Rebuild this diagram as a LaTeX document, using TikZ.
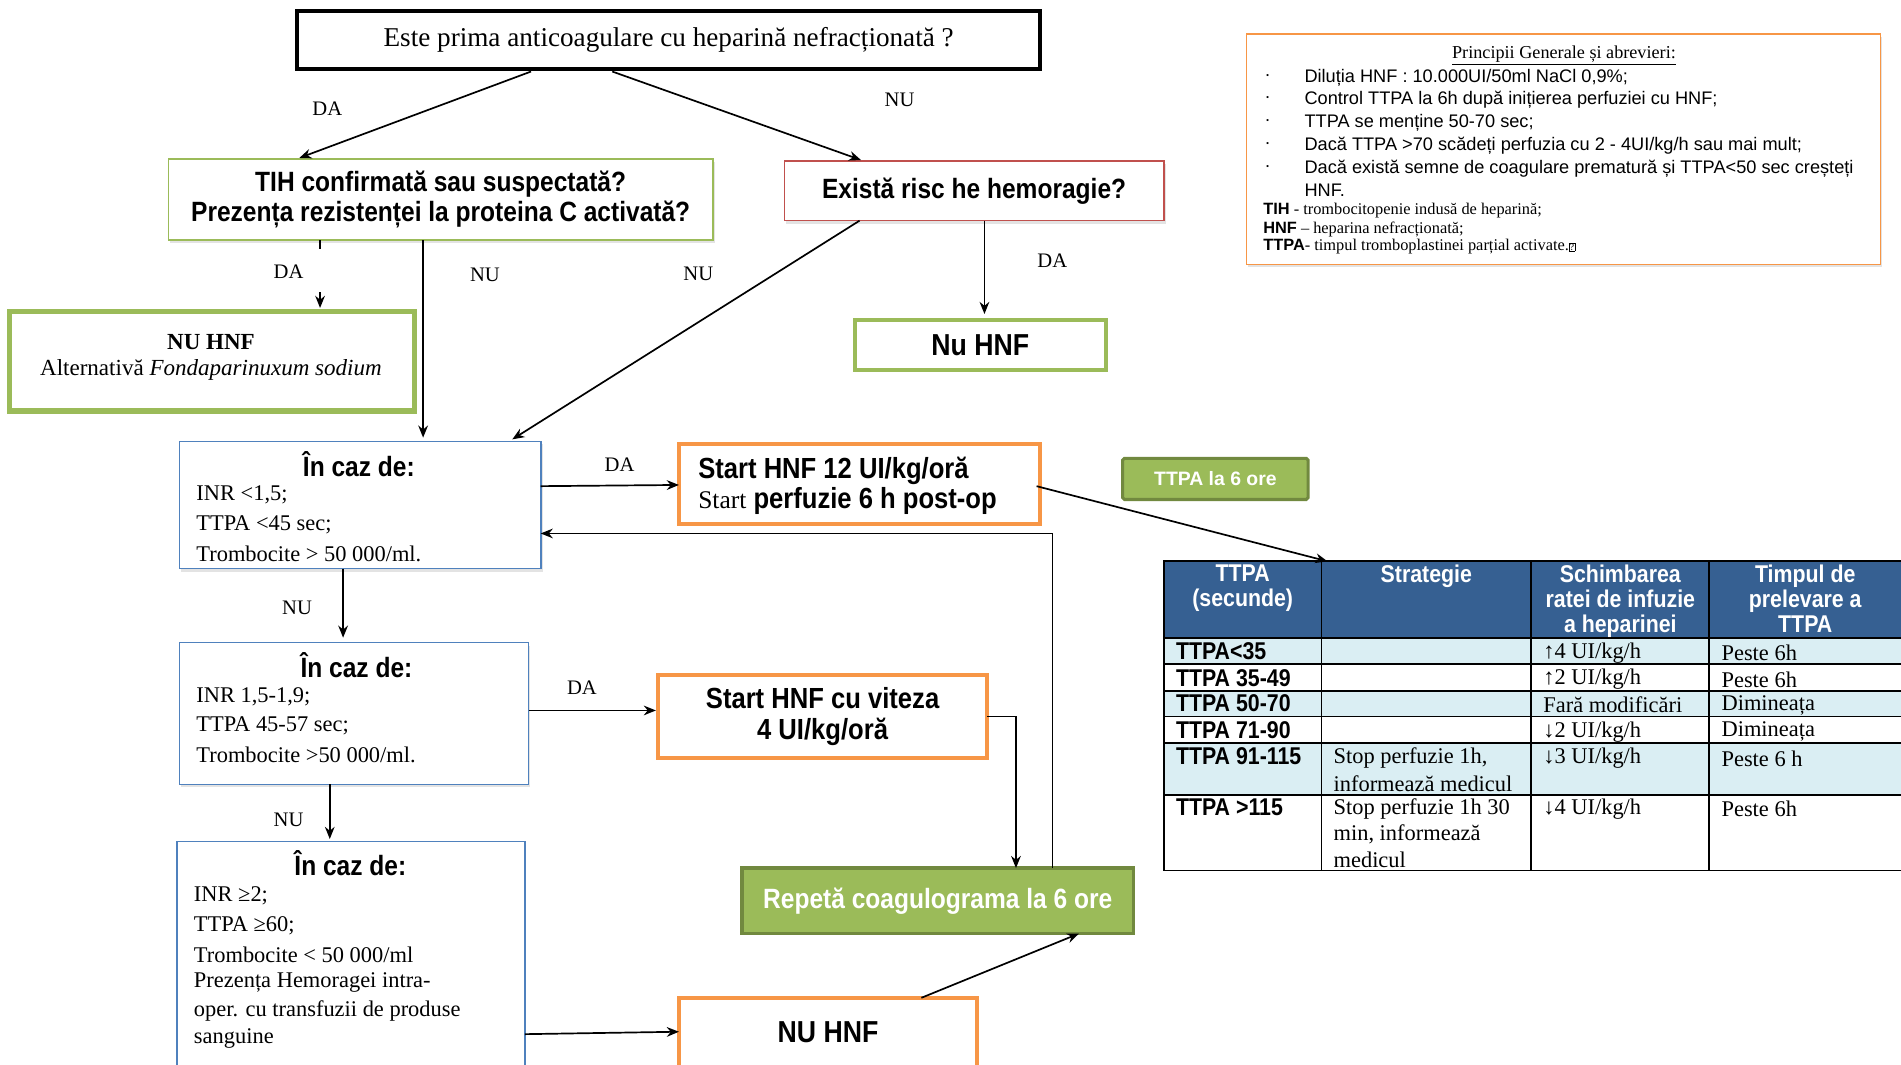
\documentclass[tikz,border=0pt]{standalone}
\usepackage{fontspec}
\setmainfont{Liberation Serif}
\newfontfamily\nb[FakeStretch=0.88]{Liberation Sans}
\newfontfamily\ar{Liberation Sans}
\usetikzlibrary{shadows,arrows.meta}
\definecolor{gr}{HTML}{9BBB59}
\definecolor{dgr}{HTML}{71893F}
\definecolor{rd}{HTML}{C0504D}
\definecolor{bl}{HTML}{4F81BD}
\definecolor{og}{HTML}{F79646}
\definecolor{hdr}{HTML}{366092}
\definecolor{lbl}{HTML}{DAEEF3}
\newcommand{\fsz}[2]{\fontsize{#1}{#2}\selectfont}
\begin{document}
\begin{tikzpicture}[x=1pt,y=-1pt,
  every node/.style={inner sep=0pt, outer sep=0pt},
  box/.style={rectangle, fill=white},
  shd/.style={drop shadow={opacity=0.22, shadow xshift=1.5pt, shadow yshift=-2.5pt}},
  arr/.style={-{Stealth[length=10pt,width=8pt]}, line width=1.4pt},
  ln/.style={line width=1.4pt},
  lab/.style={font=\fsz{17}{20}},
  nbf/.style={font=\nb\bfseries\fsz{23}{25}},
  tx/.style={anchor=west, yshift=-1.5pt, font=\fsz{18.5}{24}},
  psans/.style={anchor=west, yshift=-2pt, font=\ar\fsz{15}{19}},
  pser/.style={anchor=west, yshift=-2pt, font=\fsz{13.5}{15}},
  thd/.style={anchor=north, align=center, text=white, font=\nb\bfseries\fsz{20}{20.5}},
  tc1/.style={anchor=west, font=\nb\bfseries\fsz{20}{22}},
  tcs/.style={anchor=west, yshift=-1.5pt, font=\fsz{18.5}{21}},
  tline/.style={line width=1.6pt},
]
\clip (0,0) rectangle (1568,878);
\fill[white] (0,0) rectangle (1568,878);

% ---------- boxes ----------
\node[box, draw=black, line width=3pt, minimum width=613pt, minimum height=48pt, font=\fsz{22.4}{26}] (top) at (551.5,33) {Este prima anticoagulare cu heparină nefracționată ?};

\node[box, draw=gr, line width=1.5pt, shd, minimum width=449pt, minimum height=67pt, align=center, font=\nb\bfseries\fsz{23}{25}] (tih) at (363.5,164.5) {TIH confirmată sau suspectată?\\Prezența rezistenței la proteina C activată?};

\node[box, draw=rd, line width=1.3pt, shd, minimum width=313pt, minimum height=49pt, nbf] (risk) at (803.5,157.5) {Există risc he hemoragie?};

\node[box, draw=gr, line width=4.5pt, minimum width=334pt, minimum height=82pt] (nohnf1) at (175,298) {};
\node[font=\bfseries\fsz{19}{22}] (nohnf1a) at (174,282) {NU HNF};
\node[font=\fsz{19}{22}] (nohnf1b) at (174,305) {Alternativă \textit{Fondaparinuxum sodium}};

\node[box, draw=gr, line width=3.5pt, minimum width=207pt, minimum height=41pt, font=\nb\bfseries\fsz{25}{27}] (nohnf2) at (808.5,284.5) {Nu HNF};

\node[box, draw=bl, line width=1.3pt, shd, minimum width=298pt, minimum height=105pt] (boxA) at (297,416.5) {};
\node[nbf] (boxAh) at (296,383) {În caz de:};
\node[tx] (boxA1) at (162,407) {INR <1,5;};
\node[tx] (boxA2) at (162,431) {TTPA <45 sec;};
\node[tx] (boxA3) at (162,455) {Trombocite > 50 000/ml.};

\node[box, draw=og, line width=3.5pt, minimum width=298pt, minimum height=66pt] (start1) at (709,399) {};
\node[anchor=west, font=\nb\bfseries\fsz{24}{26}] (start1a) at (576,388) {Start HNF 12 UI/kg/oră};
\node[anchor=west, font=\nb\bfseries\fsz{24}{26}] (start1b) at (576,413) {{\rmfamily\mdseries\fsz{21}{24}Start} perfuzie 6 h post-op};

\node[box, fill=gr, draw=dgr, line width=2.5pt, rounded corners=1.5pt, minimum width=153pt, minimum height=34pt, text=white, font=\ar\bfseries\fsz{16}{18}] (ttpa6) at (1002.5,395) {TTPA la 6 ore};

\node[box, draw=bl, line width=1.3pt, shd, minimum width=288pt, minimum height=117pt] (boxB) at (292,588.5) {};
\node[nbf] (boxBh) at (294,549) {În caz de:};
\node[tx] (boxB1) at (162,573) {INR 1,5-1,9;};
\node[tx] (boxB2) at (162,597) {TTPA 45-57 sec;};
\node[tx] (boxB3) at (162,621) {Trombocite >50 000/ml.};

\node[box, draw=og, line width=3.5pt, minimum width=271pt, minimum height=68pt, align=center, font=\nb\bfseries\fsz{24}{25}] (start2) at (678.5,591) {Start HNF cu viteza\\4 UI/kg/oră};

\node[box, draw=bl, line width=1.3pt, minimum width=287pt, minimum height=200pt] (boxC) at (289.5,794) {};
\node[nbf] (boxCh) at (289,712) {În caz de:};
\node[tx] (boxC1) at (160,737) {INR ≥2;};
\node[tx] (boxC2) at (160,762) {TTPA ≥60;};
\node[tx] (boxC3) at (160,786) {Trombocite < 50 000/ml};
\node[tx] (boxC4) at (160,809) {Prezența Hemoragei intra-};
\node[tx] (boxC5) at (160,832) {oper. cu transfuzii de produse};
\node[tx] (boxC6) at (160,855) {sanguine};

\node[box, draw=og, line width=3.5pt, minimum width=246pt, minimum height=70pt] (nohnf3) at (683,858) {};
\node[font=\nb\bfseries\fsz{25}{27}] (nohnf3t) at (683,851) {NU HNF};

\node[box, fill=gr, draw=dgr, line width=3pt, minimum width=323pt, minimum height=54pt, text=white, font=\nb\bfseries\fsz{23}{25}] (repeta) at (773.5,743) {Repetă coagulograma la 6 ore};

% ---------- principles box ----------
\node[box, draw=og, line width=1.3pt, shd, minimum width=523pt, minimum height=190pt] (princ) at (1289.5,123) {};
\node[font=\fsz{15}{17}] (princt) at (1290,46) {\underline{Principii Generale și abrevieri:}};
\node[psans] (pb1) at (1043,62) {·};
\node[psans] (pb2) at (1043,80) {·};
\node[psans] (pb3) at (1043,99) {·};
\node[psans] (pb4) at (1043,118) {·};
\node[psans] (pb5) at (1043,137) {·};
\node[psans] (pl1) at (1076,62) {Diluția HNF : 10.000UI/50ml NaCl 0,9\%;};
\node[psans] (pl2) at (1076,80) {Control TTPA la 6h după inițierea perfuziei cu HNF;};
\node[psans] (pl3) at (1076,99) {TTPA se menține 50-70 sec;};
\node[psans] (pl4) at (1076,118) {Dacă TTPA >70 scădeți perfuzia cu 2 - 4UI/kg/h sau mai mult;};
\node[psans] (pl5) at (1076,137) {Dacă există semne de coagulare prematură și TTPA<50 sec creșteți};
\node[psans] (pl6) at (1076,155) {HNF.};
\node[pser] (pa1) at (1042,172) {{\ar\bfseries TIH} - trombocitopenie indusă de heparină;};
\node[pser] (pa2) at (1042,187) {{\ar\bfseries HNF} – heparina nefracționată;};
\node[pser] (pa3) at (1042,201) {{\ar\bfseries TTPA}- timpul tromboplastinei parțial activate.{\fboxsep=0.3pt\fboxrule=0.5pt\fbox{\fsz{8}{8}?}}};

% ---------- table ----------
\node[rectangle, fill=hdr, minimum width=620pt, minimum height=63pt] (thead) at (1270,494.5) {};
\fill[lbl] (960,526) rectangle (1580,548);
\fill[lbl] (960,570) rectangle (1580,591);
\fill[lbl] (960,613) rectangle (1580,656);
\draw[tline] (960,463) rectangle (1580,718);
\foreach \yy in {526,548,570,591,613,656} \draw[tline] (960,\yy) -- (1580,\yy);
\foreach \xx in {1090,1263,1410} \draw[tline] (\xx,463) -- (\xx,718);

\node[thd] (th1) at (1025,466) {TTPA\\(secunde)};
\node[thd] (th2) at (1176.5,466) {Strategie};
\node[thd] (th3) at (1336.5,466) {Schimbarea\\ratei de infuzie\\a heparinei};
\node[thd] (th4) at (1489,466) {Timpul de\\prelevare a\\TTPA};

\node[tc1] (r1a) at (970,537) {TTPA<35};
\node[tc1] (r2a) at (970,559) {TTPA 35-49};
\node[tc1] (r3a) at (970,580) {TTPA 50-70};
\node[tc1] (r4a) at (970,602) {TTPA 71-90};
\node[tc1] (r5a) at (970,624) {TTPA 91-115};
\node[tc1] (r6a) at (970,666) {TTPA >115};

\node[tcs] (r5b1) at (1100,624) {Stop perfuzie 1h,};
\node[tcs] (r5b2) at (1100,645) {informează medicul};
\node[tcs] (r6b1) at (1100,666) {Stop perfuzie 1h 30};
\node[tcs] (r6b2) at (1100,687) {min, informează};
\node[tcs] (r6b3) at (1100,708) {medicul};

\node[tcs] (r1c) at (1273,537) {↑4 UI/kg/h};
\node[tcs] (r2c) at (1273,559) {↑2 UI/kg/h};
\node[tcs] (r3c) at (1273,580) {Fară modificări};
\node[tcs] (r4c) at (1273,602) {↓2 UI/kg/h};
\node[tcs] (r5c) at (1273,624) {↓3 UI/kg/h};
\node[tcs] (r6c) at (1273,666) {↓4 UI/kg/h};

\node[tcs] (r1d) at (1420,537) {Peste 6h};
\node[tcs] (r2d) at (1420,559) {Peste 6h};
\node[tcs] (r3d) at (1420,580) {Dimineața};
\node[tcs] (r4d) at (1420,602) {Dimineața};
\node[tcs] (r5d) at (1420,624) {Peste 6 h};
\node[tcs] (r6d) at (1420,666) {Peste 6h};

% ---------- connectors ----------
\draw[arr, shorten >=2pt] ([xshift=-113.5pt,yshift=-2pt]top.south) -- (245,0 |- tih.north);
\draw[arr, shorten >=3pt] ([xshift=-46.5pt,yshift=-2pt]top.south) -- (713,0 |- risk.north);
\draw[ln] (264,0 |- tih.south) -- ++(0,7);
\draw[arr, shorten >=3pt] (264,241) -- (264,0 |- nohnf1.north);
\draw[arr, shorten >=3pt] (349,0 |- tih.south) -- (349,0 |- boxA.north);
\draw[arr, shorten >=3pt] (709,0 |- risk.south) -- (420,0 |- boxA.north);
\draw[arr, shorten >=5pt] (812,0 |- risk.south) -- (812,0 |- nohnf2.north);
\draw[arr] (boxA.east |- 0,401) -- (start1.west |- 0,400);
\draw[arr] ([xshift=-3pt]start1.east |- 0,401) -- (1095,0 |- thead.north);
\draw[arr] (868,0 |- repeta.north) |- (boxA.east |- 0,440);
\draw[arr, shorten >=4pt] (283,0 |- boxA.south) -- (283,0 |- boxB.north);
\draw[arr, shorten >=2pt] (boxB.east |- 0,586) -- (start2.west |- 0,586);
\draw[arr] (start2.east |- 0,591) -| (838,0 |- repeta.north);
\draw[arr, shorten >=2pt] (272,0 |- boxB.south) -- (272,0 |- boxC.north);
\draw[arr] (boxC.east |- 0,853) -- (nohnf3.west |- 0,851);
\draw[arr] (760,0 |- nohnf3.north) -- (890,0 |- repeta.south);

% ---------- labels ----------
\node[lab] (l1) at (270,90) {DA};
\node[lab] (l2) at (742,82) {NU};
\node[lab] (l3) at (238,224) {DA};
\node[lab] (l4) at (400,227) {NU};
\node[lab] (l5) at (576,226) {NU};
\node[lab] (l6) at (868,215) {DA};
\node[lab] (l7) at (511,383) {DA};
\node[lab] (l8) at (245,501) {NU};
\node[lab] (l9) at (480,567) {DA};
\node[lab] (l10) at (238,676) {NU};
\end{tikzpicture}
\end{document}
